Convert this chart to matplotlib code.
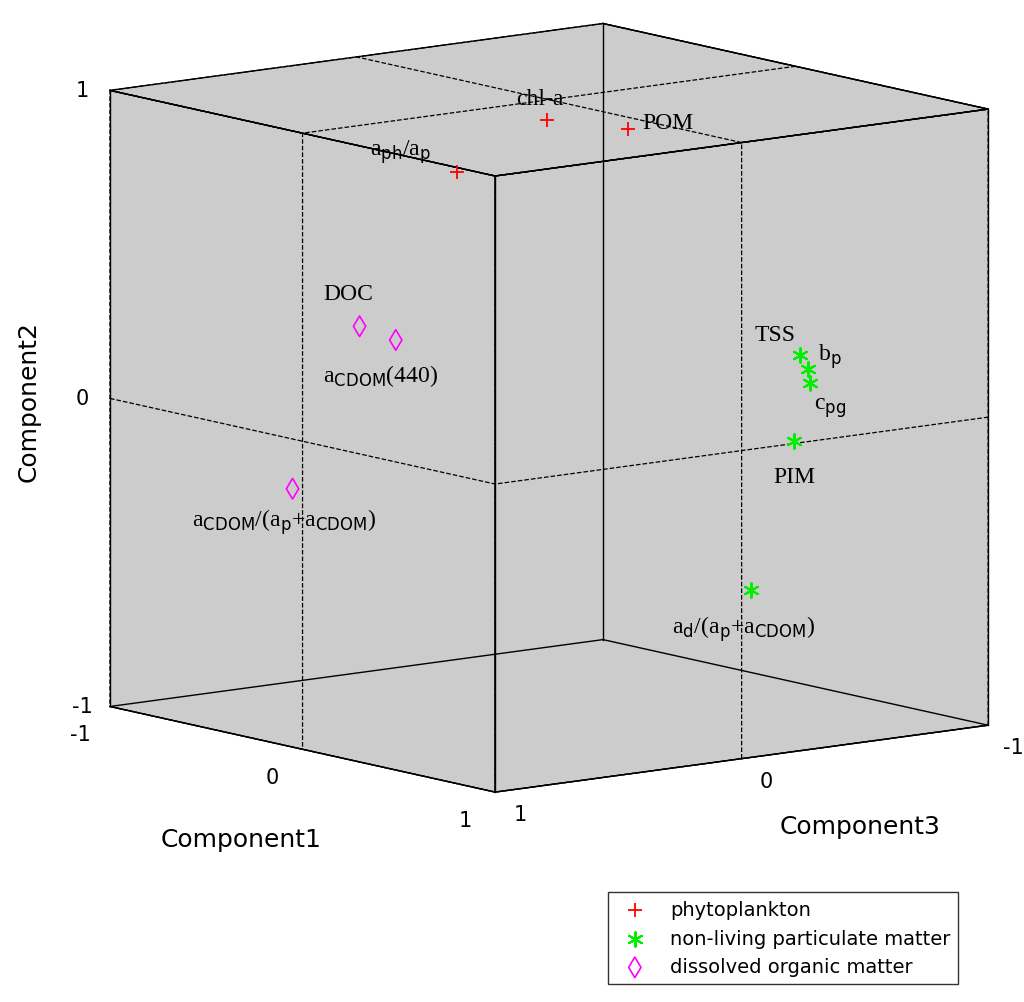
import numpy as np
import matplotlib.pyplot as plt
from mpl_toolkits.mplot3d import proj3d

plt.rcParams["font.family"] = ["DejaVu Sans"]

# (Component1, Component2, Component3)
phyto_names = ["chl-a", "POM", r"a$_{\rm ph}$/a$_{\rm p}$"]
phyto_c1 = [-0.15, 0.13, 0.42]
phyto_c2 = [0.90, 0.90, 0.90]
phyto_c3 = [-0.11, -0.22, 0.70]

npm_names = ["TSS", r"b$_{\rm p}$", r"c$_{\rm pg}$", "PIM",
             r"a$_{\rm d}$/(a$_{\rm p}$+a$_{\rm CDOM}$)"]
npm_c1 = [0.28, 0.32, 0.33, 0.25, 0.41]
npm_c2 = [0.125, 0.084, 0.04, -0.16, -0.59]
npm_c3 = [-0.80, -0.80, -0.80, -0.80, -0.50]

dom_names = ["DOC", r"a$_{\rm CDOM}$(440)",
             r"a$_{\rm CDOM}$/(a$_{\rm p}$+a$_{\rm CDOM}$)"]
dom_c1 = [0.04, 0.10, -0.18]
dom_c2 = [0.357, 0.31, -0.19]
dom_c3 = [0.80, 0.70, 0.90]

ticks = [-1, 0, 1]

fig = plt.figure(figsize=(10.24, 10.03), dpi=100)
ax = fig.add_axes([0.024, 0.12, 1.0, 0.92], projection="3d", proj_type="ortho")
ax.view_init(elev=-10, azim=218)
ax.set_box_aspect((1, 1, 1), zoom=1.14)

# axes: x = Component1, y = Component3, z = Component2
ax.set_xlim(-1, 1); ax.set_ylim(-1, 1); ax.set_zlim(-1, 1)
for a in (ax.xaxis, ax.yaxis, ax.zaxis):
    a.set_ticks(ticks)
    a.set_ticklabels([])
    a.set_pane_color((0.8, 0.8, 0.8, 1.0))
    a.pane.set_edgecolor("k")
    a._axinfo["grid"].update(color="k", linestyle="--", linewidth=0.9)
    a._axinfo["tick"].update(inward_factor=0, outward_factor=0)
    a.line.set_visible(False)

# box outline
corners = [(-1, -1), (-1, 1), (1, -1), (1, 1)]
for c1, c3 in corners:
    ax.plot([c1, c1], [c3, c3], [-1, 1], color="k", lw=1.0)
for z in (-1, 1):
    for c in (-1, 1):
        ax.plot([-1, 1], [c, c], [z, z], color="k", lw=1.0)
        ax.plot([c, c], [-1, 1], [z, z], color="k", lw=1.0)

ax.scatter(phyto_c1, phyto_c3, phyto_c2, marker="+", color="red", s=110,
           linewidths=1.3, depthshade=False, label="phytoplankton")
ax.scatter(npm_c1, npm_c3, npm_c2, marker=(6, 2, 0), color="#00ee00", s=110,
           linewidths=1.5, depthshade=False, label="non-living particulate matter")
ax.scatter(dom_c1, dom_c3, dom_c2, marker="d", facecolors="none",
           edgecolors="magenta", s=110, linewidths=1.2, depthshade=False,
           label="dissolved organic matter")

fig.canvas.draw()
M = ax.get_proj()


def place(c1, c3, c2, txt, dx, dy, **kw):
    x, y, _ = proj3d.proj_transform(c1, c3, c2, M)
    ax.annotate(txt, xy=(x, y), xycoords="data", xytext=(dx, dy),
                textcoords="offset pixels", annotation_clip=False, **kw)


lab = dict(fontsize=17, family="Liberation Serif", ha="center", va="center")
offs_phyto = [(-7, 22), (40, 6), (-57, 21)]
offs_npm = [(-25, 20), (22, 13), (20, -24), (0, -35), (-8, -38)]
offs_dom = [(-11, 33), (-15, -35), (-8, -32)]
for names, c1, c2, c3, offs in [(phyto_names, phyto_c1, phyto_c2, phyto_c3, offs_phyto),
                                (npm_names, npm_c1, npm_c2, npm_c3, offs_npm),
                                (dom_names, dom_c1, dom_c2, dom_c3, offs_dom)]:
    for n, a1, a2, a3, o in zip(names, c1, c2, c3, offs):
        place(a1, a3, a2, n, o[0], o[1], **lab)

tk = dict(fontsize=15, ha="center", va="center")
for v in ticks:
    place(-1, 1, v, str(v), -28, 0, **tk)          # Component2
    place(v, 1, -1, str(v), -30, -28, **tk)        # Component1
    place(1, v, -1, str(v), 25, -22, **tk)         # Component3

ax.set_xlabel(""); ax.set_ylabel(""); ax.set_zlabel("")
fig.text(0.235, 0.163, "Component1", fontsize=18, ha="center", va="center")
fig.text(0.84, 0.175, "Component3", fontsize=18, ha="center", va="center")
fig.text(0.028, 0.60, "Component2", fontsize=18, ha="center", va="center",
         rotation=90)

fig.legend(loc="lower right", bbox_to_anchor=(0.945, 0.008), fontsize=14,
           frameon=True, fancybox=False, edgecolor="k")

fig.savefig("out.png", dpi=100)
